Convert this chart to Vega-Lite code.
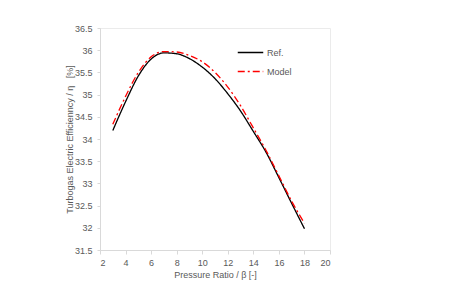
{
  "$schema": "https://vega.github.io/schema/vega-lite/v6.json",
  "width": 230,
  "height": 222,
  "autosize": {"type": "none"},
  "padding": {"left": 100, "top": 28, "right": 140, "bottom": 51},
  "background": "white",
  "config": {
    "view": {"stroke": "#ebebeb"},
    "font": "Liberation Sans",
    "legend": {
      "orient": "none",
      "legendX": 137,
      "legendY": 11,
      "symbolType": "stroke",
      "symbolSize": 650,
      "symbolStrokeWidth": 1.4,
      "labelFontSize": 9,
      "labelColor": "#595959",
      "labelOffset": 3,
      "rowPadding": -12
    }
  },
  "data": {
    "values": [
      {"beta": 3, "eff": 34.19, "series": "Ref."},
      {"beta": 4, "eff": 34.84, "series": "Ref."},
      {"beta": 5, "eff": 35.42, "series": "Ref."},
      {"beta": 6, "eff": 35.8, "series": "Ref."},
      {"beta": 7, "eff": 35.94, "series": "Ref."},
      {"beta": 8, "eff": 35.92, "series": "Ref."},
      {"beta": 9, "eff": 35.81, "series": "Ref."},
      {"beta": 10, "eff": 35.62, "series": "Ref."},
      {"beta": 11, "eff": 35.36, "series": "Ref."},
      {"beta": 12, "eff": 35.02, "series": "Ref."},
      {"beta": 13, "eff": 34.63, "series": "Ref."},
      {"beta": 14, "eff": 34.17, "series": "Ref."},
      {"beta": 15, "eff": 33.7, "series": "Ref."},
      {"beta": 16, "eff": 33.13, "series": "Ref."},
      {"beta": 17, "eff": 32.55, "series": "Ref."},
      {"beta": 18, "eff": 31.98, "series": "Ref."},
      {"beta": 3, "eff": 34.33, "series": "Model"},
      {"beta": 4, "eff": 34.96, "series": "Model"},
      {"beta": 5, "eff": 35.5, "series": "Model"},
      {"beta": 6, "eff": 35.85, "series": "Model"},
      {"beta": 7, "eff": 35.97, "series": "Model"},
      {"beta": 8, "eff": 35.96, "series": "Model"},
      {"beta": 9, "eff": 35.88, "series": "Model"},
      {"beta": 10, "eff": 35.74, "series": "Model"},
      {"beta": 11, "eff": 35.5, "series": "Model"},
      {"beta": 12, "eff": 35.17, "series": "Model"},
      {"beta": 13, "eff": 34.75, "series": "Model"},
      {"beta": 14, "eff": 34.25, "series": "Model"},
      {"beta": 15, "eff": 33.74, "series": "Model"},
      {"beta": 16, "eff": 33.17, "series": "Model"},
      {"beta": 17, "eff": 32.6, "series": "Model"},
      {"beta": 18, "eff": 32.1, "series": "Model"}
    ]
  },
  "mark": {"type": "line", "interpolate": "monotone", "strokeWidth": 1.3},
  "encoding": {
    "x": {
      "field": "beta",
      "type": "quantitative",
      "scale": {"domain": [2, 20], "nice": false},
      "axis": {
        "values": [2, 4, 6, 8, 10, 12, 14, 16, 18, 20],
        "grid": false,
        "title": "Pressure Ratio / β [-]",
        "domainColor": "#d9d9d9",
        "tickColor": "#d9d9d9",
        "tickSize": 4,
        "labelFontSize": 9,
        "labelColor": "#595959",
        "labelPadding": 4,
        "titleFontSize": 9,
        "titleColor": "#595959",
        "titleFontWeight": "normal",
        "titlePadding": 3
      }
    },
    "y": {
      "field": "eff",
      "type": "quantitative",
      "scale": {"domain": [31.5, 36.5], "nice": false, "zero": false},
      "axis": {
        "values": [31.5, 32, 32.5, 33, 33.5, 34, 34.5, 35, 35.5, 36, 36.5],
        "format": "~g",
        "grid": false,
        "title": "Turbogas Electric Efficienncy / η \u00a0 [%]",
        "domainColor": "#d9d9d9",
        "tickColor": "#d9d9d9",
        "tickSize": 3,
        "labelFontSize": 9,
        "labelColor": "#595959",
        "labelPadding": 5,
        "titleFontSize": 9,
        "titleColor": "#595959",
        "titleFontWeight": "normal",
        "titleX": -31,
        "titleY": 111,
        "titleAngle": 270,
        "titleAlign": "center",
        "titleBaseline": "middle"
      }
    },
    "color": {
      "field": "series",
      "type": "nominal",
      "scale": {"domain": ["Ref.", "Model"], "range": ["#000000", "#ff0000"]},
      "legend": {"title": null}
    },
    "strokeDash": {
      "field": "series",
      "type": "nominal",
      "scale": {"domain": ["Ref.", "Model"], "range": [[1, 0], [7, 3, 2, 3]]},
      "legend": {"title": null}
    }
  }
}
